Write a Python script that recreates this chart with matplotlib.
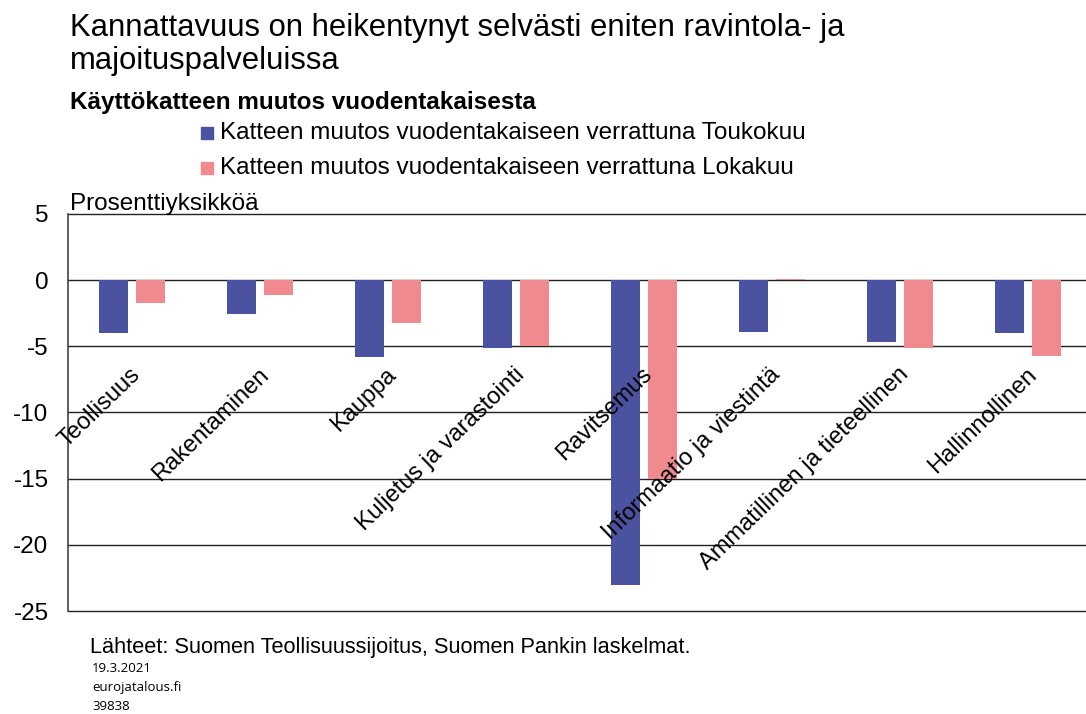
import matplotlib
matplotlib.use("Agg")
import matplotlib.pyplot as plt
import numpy as np

plt.rcParams['font.family'] = ['Liberation Sans', 'DejaVu Sans']

categories = ["Teollisuus", "Rakentaminen", "Kauppa", "Kuljetus ja varastointi",
              "Ravitsemus", "Informaatio ja viestintä", "Ammatillinen ja tieteellinen",
              "Hallinnollinen"]
toukokuu = [-4.0, -2.55, -5.8, -5.1, -23.0, -3.9, -4.65, -4.0]
lokakuu = [-1.7, -1.15, -3.2, -5.0, -15.0, 0.1, -5.15, -5.75]
series_names = ["Katteen muutos vuodentakaiseen verrattuna Toukokuu",
                "Katteen muutos vuodentakaiseen verrattuna Lokakuu"]
yticks = [5, 0, -5, -10, -15, -20, -25]

blue = "#4b53a0"
pink = "#f08a8f"

W, H = 1086, 714
fig = plt.figure(figsize=(W / 100, H / 100), dpi=100)
ax = fig.add_axes([68 / W, 1 - 611 / H, (1092 - 68) / W, (611 - 214) / H])

x = np.arange(len(categories))
bw = 0.227
off = 0.145
ax.bar(x - off, toukokuu, width=bw, color=blue, zorder=3)
ax.bar(x + off, lokakuu, width=bw, color=pink, zorder=3)

ax.set_xlim(-0.5, len(categories) - 0.5)
ax.set_ylim(-25, 5)
ax.set_yticks(yticks)
ax.set_yticklabels([str(v) for v in yticks], fontsize=17.5)
ax.tick_params(axis='y', length=0, pad=14)
ax.set_xticks([])
ax.grid(axis='y', color='#222222', linewidth=1.0, zorder=1)
for gl in ax.get_ygridlines():
    gl.set_clip_on(False)
for s in ['top', 'right', 'bottom']:
    ax.spines[s].set_visible(False)
ax.spines['left'].set_color('#444444')
ax.spines['left'].set_linewidth(1.2)

for i, c in enumerate(categories):
    ax.text(i - 0.02, -6.3, c, rotation=44, rotation_mode='anchor',
            ha='right', va='top', fontsize=17, zorder=4)

fig.text(70 / W, 1 - 28 / H, "Kannattavuus on heikentynyt selvästi eniten ravintola- ja",
         fontsize=22.3, va='center', ha='left')
fig.text(70 / W, 1 - 61 / H, "majoituspalveluissa",
         fontsize=22.3, va='center', ha='left')
fig.text(70 / W, 1 - 103 / H, "Käyttökatteen muutos vuodentakaisesta",
         fontsize=17.5, fontweight='bold', va='center', ha='left')

for j, (name, col) in enumerate(zip(series_names, [blue, pink])):
    yy = 1 - (133 + 35 * j) / H
    fig.patches.append(plt.Rectangle((201 / W, yy - 6 / H), 12 / W, 12 / H,
                                     transform=fig.transFigure, color=col))
    fig.text(220 / W, yy, name, fontsize=17.5, va='center', ha='left')

fig.text(70 / W, 1 - 204 / H, "Prosenttiyksikköä", fontsize=17.5, va='center', ha='left')
fig.text(90 / W, 1 - 647 / H, "Lähteet: Suomen Teollisuussijoitus, Suomen Pankin laskelmat.",
         fontsize=15.7, va='center', ha='left')
for k, t in enumerate(["19.3.2021", "eurojatalous.fi", "39838"]):
    fig.text(92 / W, 1 - (668 + 19.5 * k) / H, t, fontsize=9.5, va='center', ha='left',
             family=['Open Sans', 'DejaVu Sans'])

fig.savefig("out.png", dpi=100)
